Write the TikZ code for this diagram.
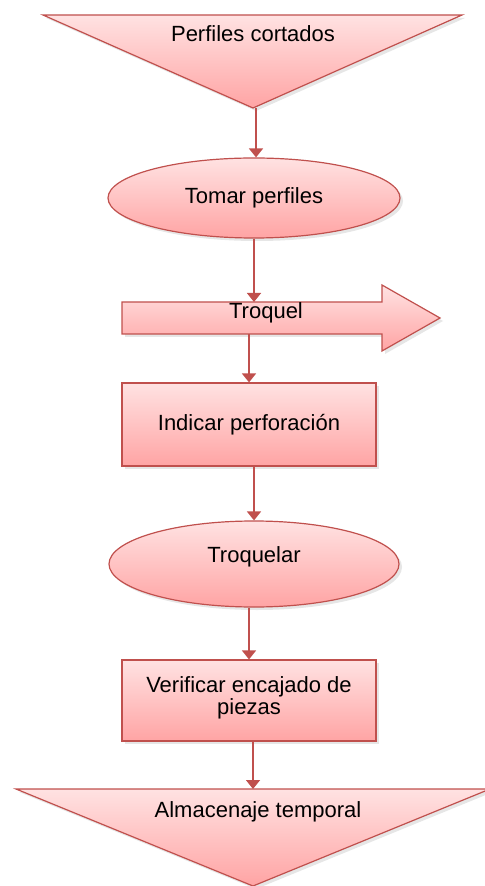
\documentclass[tikz,border=0pt]{standalone}
\usepackage{fontspec}
\setmainfont{Liberation Sans}
\usepackage{xcolor}
\usetikzlibrary{shapes.geometric, arrows.meta, shadows}
\definecolor{borde}{HTML}{C0504D}
\definecolor{rosaA}{HTML}{FFE2E2}
\definecolor{rosaB}{HTML}{FFA4A4}

\begin{document}
\begin{tikzpicture}[x=0.5pt, y=-0.5pt,
		paso/.style={draw=borde, line width=0.6pt, top color=rosaA, bottom color=rosaB,
			drop shadow={opacity=0.2, shadow xshift=1.5pt, shadow yshift=-1.5pt}},
		caja/.style={paso, rectangle, minimum width=127pt, inner sep=0pt},
		elipse/.style={paso, ellipse, inner sep=0pt},
		etiqueta/.style={font=\fontsize{11}{11}\selectfont, align=center, inner sep=0pt},
		flecha/.style={draw=borde, line width=0.8pt, -{Triangle[width=7pt,length=4.5pt]}}
		]
		\useasboundingbox (0,0) rectangle (484,886);
		% entrada y salida
		\path[paso] (43,15) -- (462,15) -- (253,108) -- cycle;
		\node[etiqueta] (perfiles) at (253,34) {Perfiles cortados};
		\coordinate (corte) at (256,108);
		\path[paso] (16,789) -- (490,789) -- (253,886) -- cycle;
		\node[etiqueta] (almacen) at (258,812) {Almacenaje temporal};
		\coordinate (almTop) at (253,789);
		
		\node[elipse, minimum width=146pt, minimum height=40pt] (tomar) at (254,198) {};
		\node[etiqueta] at (tomar.center) {Tomar perfiles};
		
		% flecha troquel
		\path[paso] (122,302) -- (382,302) -- (382,285) -- (440,318) -- (382,351) -- (382,334) -- (122,334) -- cycle;
		\node[etiqueta] (troquel) at (266,313) {Troquel};
		\coordinate (tqArriba) at (254,302);
		\coordinate (tqAbajo) at (249,334);
		
		\node[caja, minimum height=41.5pt] (indicar) at (249,424.5) {};
		\node[etiqueta] at (indicar.center) {Indicar perforación};
		\node[elipse, minimum width=145pt, minimum height=43pt] (troquelar) at (254,564) {};
		\node[etiqueta] at (254,557) {Troquelar};
		\node[caja, minimum height=40.5pt] (verificar) at (249,700.5) {};
		\node[etiqueta] at (249,698) {Verificar encajado de\\piezas};
		
		\draw[flecha] (corte) -- (corte |- tomar.north);
		\draw[flecha] (tomar.south) -- (tqArriba);
		\draw[flecha] (tqAbajo) -- (tqAbajo |- indicar.north);
		\draw[flecha] (troquelar.north |- indicar.south) -- (troquelar.north);
		\draw[flecha] (verificar.north |- troquelar.south) -- (verificar.north);
		\draw[flecha] (almTop |- verificar.south) -- (almTop);
\end{tikzpicture}
\end{document}
